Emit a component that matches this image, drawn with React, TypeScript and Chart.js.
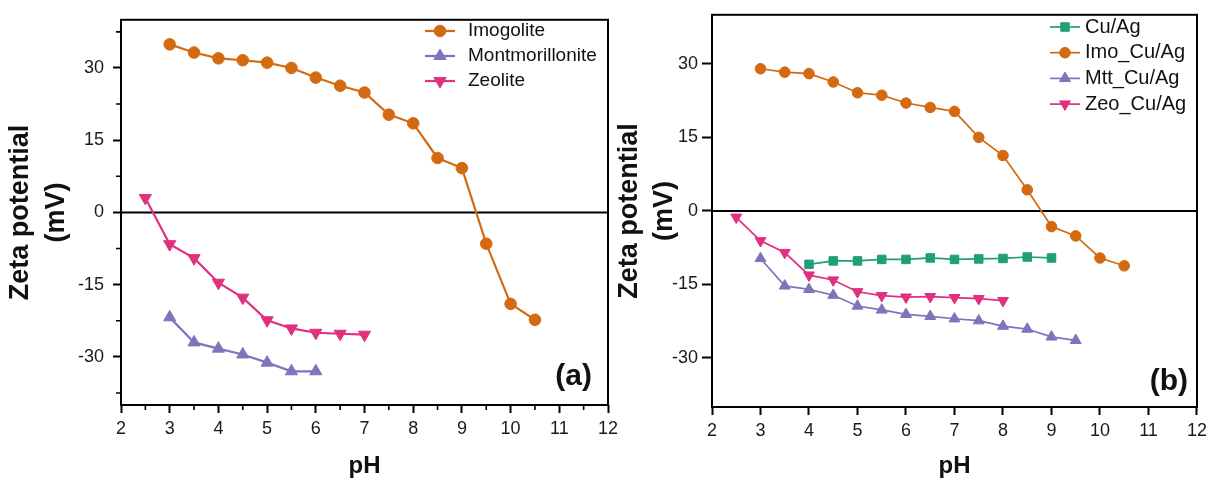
import React, { useEffect, useRef } from 'react';
import { Chart, registerables } from 'chart.js';

Chart.register(...registerables);

const FONT = '"Liberation Sans", Arial, Helvetica, sans-serif';
const H = 481;

// ---------- Panel (a) data ----------
const phImogolite = [3, 3.5, 4, 4.5, 5, 5.5, 6, 6.5, 7, 7.5, 8, 8.5, 9, 9.5, 10, 10.5];
const imogolite = [34.9, 33.2, 32.0, 31.6, 31.1, 30.0, 28.0, 26.3, 24.9, 20.3, 18.5, 11.3, 9.2, -6.5, -19.0, -22.3];
const phMontmorillonite = [3, 3.5, 4, 4.5, 5, 5.5, 6];
const montmorillonite = [-21.8, -27.0, -28.3, -29.5, -31.2, -33.0, -33.0];
const phZeolite = [2.5, 3, 3.5, 4, 4.5, 5, 5.5, 6, 6.5, 7];
const zeolite = [3.0, -6.6, -9.5, -14.6, -17.7, -22.4, -24.1, -25.0, -25.2, -25.4];

// ---------- Panel (b) data ----------
const phCuAg = [4, 4.5, 5, 5.5, 6, 6.5, 7, 7.5, 8, 8.5, 9];
const cuAg = [-10.9, -10.2, -10.2, -9.9, -9.9, -9.6, -9.9, -9.8, -9.7, -9.4, -9.6];
const phImoCuAg = [3, 3.5, 4, 4.5, 5, 5.5, 6, 6.5, 7, 7.5, 8, 8.5, 9, 9.5, 10, 10.5];
const imoCuAg = [29.0, 28.3, 28.0, 26.3, 24.1, 23.6, 22.0, 21.1, 20.3, 15.0, 11.3, 4.3, -3.2, -5.1, -9.6, -11.2];
const phMttCuAg = [3, 3.5, 4, 4.5, 5, 5.5, 6, 6.5, 7, 7.5, 8, 8.5, 9, 9.5];
const mttCuAg = [-9.7, -15.3, -16.0, -17.2, -19.4, -20.2, -21.1, -21.5, -22.0, -22.4, -23.5, -24.1, -25.7, -26.4];
const phZeoCuAg = [2.5, 3, 3.5, 4, 4.5, 5, 5.5, 6, 6.5, 7, 7.5, 8];
const zeoCuAg = [-1.3, -6.1, -8.5, -13.1, -14.1, -16.5, -17.3, -17.6, -17.5, -17.7, -17.9, -18.3];

// ---------- ticks ----------
const xTickValues = [2, 3, 4, 5, 6, 7, 8, 9, 10, 11, 12];
const yTickValues = [-30, -15, 0, 15, 30];
const xMinorTicksA = [2.5, 3.5, 4.5, 5.5, 6.5, 7.5, 8.5, 9.5, 10.5, 11.5];
const yMinorTicksA = [-37.5, -22.5, -7.5, 7.5, 22.5, 37.5];

const ORANGE = '#D36A12';
const PURPLE = '#7E74BC';
const MAGENTA = '#E0307F';
const GREEN = '#1F9E78';

function pts(xs: number[], ys: number[]) {
  return xs.map((x, i) => ({ x, y: ys[i] }));
}

function drawMarker(ctx: CanvasRenderingContext2D, style: string, rotation: number, x: number, y: number, r: number, color: string) {
  ctx.save();
  ctx.fillStyle = color;
  ctx.strokeStyle = color;
  ctx.lineWidth = 1;
  ctx.beginPath();
  if (style === 'circle') {
    ctx.arc(x, y, r, 0, Math.PI * 2);
  } else if (style === 'rect') {
    const s = Math.SQRT1_2 * r;
    ctx.rect(x - s, y - s, 2 * s, 2 * s);
  } else {
    let rad = (rotation * Math.PI) / 180;
    ctx.moveTo(x + Math.sin(rad) * r, y - Math.cos(rad) * r);
    rad += (2 * Math.PI) / 3;
    ctx.lineTo(x + Math.sin(rad) * r, y - Math.cos(rad) * r);
    rad += (2 * Math.PI) / 3;
    ctx.lineTo(x + Math.sin(rad) * r, y - Math.cos(rad) * r);
    ctx.closePath();
  }
  ctx.fill();
  ctx.stroke();
  ctx.restore();
}

type PanelCfg = {
  left: number;
  w: number;
  area: { left: number; top: number; right: number; bottom: number };
  datasets: any[];
  label: string;
  labelPos: { dx: number; dy: number };
  legend: { lineX: number; lineLen: number; textX: number; y0: number; dy: number; font: number };
  yTickLen: number;
  yTickPad: number;
  yTitleLineHeight: number;
  yTitlePad: number;
  xMinor: number[];
  yMinor: number[];
};

function makeDecor(cfg: PanelCfg) {
  return {
    id: 'decor',
    beforeDatasetsDraw(chart: any) {
      const { ctx, chartArea, scales } = chart;
      const y0 = scales.y.getPixelForValue(0);
      ctx.save();
      ctx.strokeStyle = '#000';
      ctx.lineWidth = 2;
      ctx.beginPath();
      ctx.moveTo(chartArea.left, y0);
      ctx.lineTo(chartArea.right, y0);
      ctx.stroke();
      ctx.restore();
    },
    afterDraw(chart: any) {
      const { ctx, chartArea, scales } = chart;
      ctx.save();
      ctx.strokeStyle = '#000';
      ctx.lineWidth = 2;
      ctx.strokeRect(chartArea.left, chartArea.top, chartArea.right - chartArea.left, chartArea.bottom - chartArea.top);
      // minor ticks
      ctx.lineWidth = 1.6;
      ctx.beginPath();
      cfg.xMinor.forEach((v) => {
        const px = scales.x.getPixelForValue(v);
        ctx.moveTo(px, chartArea.bottom);
        ctx.lineTo(px, chartArea.bottom + 5);
      });
      cfg.yMinor.forEach((v) => {
        const py = scales.y.getPixelForValue(v);
        ctx.moveTo(chartArea.left, py);
        ctx.lineTo(chartArea.left - 5, py);
      });
      ctx.stroke();
      // legend
      const lg = cfg.legend;
      ctx.font = `${lg.font}px ${FONT}`;
      ctx.textBaseline = 'middle';
      ctx.textAlign = 'left';
      chart.data.datasets.forEach((ds: any, i: number) => {
        const y = lg.y0 + i * lg.dy;
        ctx.strokeStyle = ds.borderColor;
        ctx.lineWidth = ds.borderWidth;
        ctx.beginPath();
        ctx.moveTo(lg.lineX, y);
        ctx.lineTo(lg.lineX + lg.lineLen, y);
        ctx.stroke();
        drawMarker(ctx, ds.pointStyle, ds.pointRotation || 0, lg.lineX + lg.lineLen / 2, y, ds.pointRadius, ds.borderColor);
        ctx.fillStyle = '#111';
        ctx.fillText(ds.label, lg.textX, y);
      });
      // panel label
      ctx.font = `bold 30px ${FONT}`;
      ctx.fillStyle = '#111';
      ctx.textAlign = 'right';
      ctx.textBaseline = 'middle';
      ctx.fillText(cfg.label, chartArea.right - cfg.labelPos.dx, chartArea.bottom - cfg.labelPos.dy);
      ctx.restore();
    },
  };
}

function buildConfig(cfg: PanelCfg): any {
  const tickFont = { family: FONT, size: 18 };
  return {
    type: 'scatter',
    data: { datasets: cfg.datasets },
    options: {
      animation: false,
      responsive: false,
      devicePixelRatio: 1,
      layout: {
        autoPadding: false,
        padding: { left: 0, top: cfg.area.top, right: cfg.w - cfg.area.right, bottom: 0 },
      },
      plugins: { legend: { display: false }, tooltip: { enabled: false } },
      scales: {
        x: {
          type: 'linear',
          min: 2,
          max: 12,
          afterBuildTicks: (s: any) => {
            s.ticks = xTickValues.map((v) => ({ value: v }));
          },
          afterFit: (s: any) => {
            s.height = H - cfg.area.bottom;
          },
          ticks: { font: tickFont, color: '#1a1a1a', padding: 5, autoSkip: false, maxRotation: 0, callback: (v: any) => String(v) },
          grid: { drawOnChartArea: false, drawTicks: true, tickLength: 8, tickWidth: 2, tickColor: '#000', color: '#000' },
          border: { display: false },
          title: {
            display: true,
            text: 'pH',
            color: '#111',
            font: { family: FONT, size: 24, weight: 'bold', lineHeight: 1.2 },
            padding: { top: 0, bottom: 0 },
          },
        },
        y: {
          type: 'linear',
          min: -40,
          max: 40,
          afterBuildTicks: (s: any) => {
            s.ticks = yTickValues.map((v) => ({ value: v }));
          },
          afterFit: (s: any) => {
            s.width = cfg.area.left;
          },
          ticks: { font: tickFont, color: '#1a1a1a', padding: cfg.yTickPad, callback: (v: any) => String(v) },
          grid: { drawOnChartArea: false, drawTicks: true, tickLength: cfg.yTickLen, tickWidth: 2, tickColor: '#000', color: '#000' },
          border: { display: false },
          title: {
            display: true,
            text: ['Zeta potential', '(mV)'],
            color: '#111',
            font: { family: FONT, size: 27, weight: 'bold', lineHeight: cfg.yTitleLineHeight },
            padding: { top: cfg.yTitlePad, bottom: 0 },
          },
        },
      },
    },
    plugins: [makeDecor(cfg)],
  };
}

function ds(label: string, xs: number[], ys: number[], color: string, style: string, r: number, width: number, rotation = 0) {
  return {
    label,
    data: pts(xs, ys),
    showLine: true,
    borderColor: color,
    backgroundColor: color,
    borderWidth: width,
    pointStyle: style,
    pointRotation: rotation,
    pointRadius: r,
    pointBorderWidth: 1,
    pointBorderColor: color,
    pointBackgroundColor: color,
    tension: 0,
  };
}

const panelA: PanelCfg = {
  left: 0,
  w: 625,
  area: { left: 121, top: 11, right: 608, bottom: 405 },
  datasets: [
    ds('Imogolite', phImogolite, imogolite, ORANGE, 'circle', 5.8, 2.2),
    ds('Montmorillonite', phMontmorillonite, montmorillonite, PURPLE, 'triangle', 7, 2.2),
    ds('Zeolite', phZeolite, zeolite, MAGENTA, 'triangle', 7, 2.2, 180),
  ],
  label: '(a)',
  labelPos: { dx: 16, dy: 28 },
  legend: { lineX: 425, lineLen: 30, textX: 468, y0: 31, dy: 25, font: 19 },
  yTickLen: 8,
  yTickPad: 9,
  yTitleLineHeight: 1.35,
  yTitlePad: 2,
  xMinor: xMinorTicksA,
  yMinor: yMinorTicksA,
};

const panelB: PanelCfg = {
  left: 612,
  w: 600,
  area: { left: 100, top: 13, right: 590, bottom: 407 },
  datasets: [
    ds('Cu/Ag', phCuAg, cuAg, GREEN, 'rect', 6, 1.7),
    ds('Imo_Cu/Ag', phImoCuAg, imoCuAg, ORANGE, 'circle', 5.3, 1.7),
    ds('Mtt_Cu/Ag', phMttCuAg, mttCuAg, PURPLE, 'triangle', 6.3, 1.7),
    ds('Zeo_Cu/Ag', phZeoCuAg, zeoCuAg, MAGENTA, 'triangle', 6.3, 1.7, 180),
  ],
  label: '(b)',
  labelPos: { dx: 9, dy: 25 },
  legend: { lineX: 438, lineLen: 30, textX: 473, y0: 27, dy: 25.7, font: 20 },
  yTickLen: 10,
  yTickPad: 4,
  yTitleLineHeight: 1.3,
  yTitlePad: 0,
  xMinor: [],
  yMinor: [],
};

function Panel({ cfg }: { cfg: PanelCfg }) {
  const ref = useRef<HTMLCanvasElement>(null);
  useEffect(() => {
    const chart = new Chart(ref.current as HTMLCanvasElement, buildConfig(cfg));
    return () => chart.destroy();
  }, [cfg]);
  return (
    <canvas
      ref={ref}
      width={cfg.w}
      height={H}
      style={{ position: 'absolute', left: cfg.left, top: 0, width: cfg.w, height: H }}
    />
  );
}

export default function App() {
  return (
    <div style={{ position: 'absolute', left: 0, top: 0, width: 1212, height: H, background: '#fff', overflow: 'hidden' }}>
      <Panel cfg={panelA} />
      <Panel cfg={panelB} />
    </div>
  );
}
